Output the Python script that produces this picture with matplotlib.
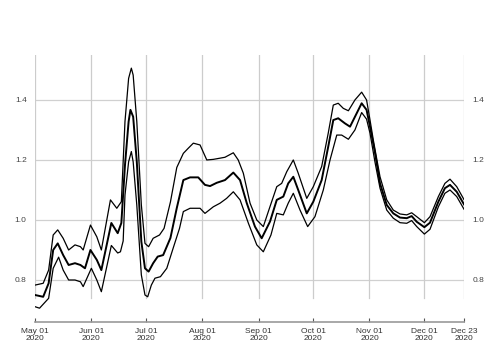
import datetime as dt
import matplotlib
matplotlib.use("Agg")
import matplotlib.pyplot as plt
import matplotlib.dates as mdates
import numpy as np

plt.rcParams['font.family'] = ['Liberation Sans', 'DejaVu Sans']

start = dt.datetime(2020, 5, 1)
end = dt.datetime(2020, 12, 23)

# day offsets from 2020-05-01 and values
upper_days = [0, 4.5, 7.5, 10, 12.5, 15.5, 18.5, 22, 25, 26.5, 30.5, 34, 36.5, 41.5, 45, 47.5,
              49.5, 51.5, 53, 54, 56, 58.5, 60.5, 62.5, 65, 68.5, 71, 74.5, 78, 81.6, 84.3, 87.1,
              90.8, 94.5, 98.1, 101.8, 104.5, 109.1, 111.8, 114.6, 118.3, 122, 125.6, 129.3, 133,
              135.7, 138.5, 142.1, 144.8, 149.5, 153.1, 157.7, 161.3, 164.1, 166.8, 169.6, 172.4,
              176, 179.7, 182.4, 184.3, 186.1, 187.5, 189.8, 193.5, 197.1, 200.8, 204.5, 207.2,
              210, 214.2, 217.3, 221.9, 225.5, 228.3, 232, 236]
upper_vals = [0.783, 0.789, 0.833, 0.95, 0.967, 0.939, 0.90, 0.917, 0.911, 0.90, 0.983, 0.944,
              0.90, 1.067, 1.039, 1.061, 1.328, 1.472, 1.506, 1.483, 1.328, 1.05, 0.922, 0.911,
              0.939, 0.95, 0.972, 1.06, 1.175, 1.222, 1.239, 1.256, 1.25, 1.20, 1.202, 1.206,
              1.209, 1.224, 1.20, 1.156, 1.056, 1.0, 0.978, 1.045, 1.111, 1.122, 1.161, 1.20,
              1.156, 1.072, 1.111, 1.178, 1.289, 1.383, 1.389, 1.372, 1.364, 1.40, 1.426, 1.40,
              1.333, 1.267, 1.22, 1.144, 1.067, 1.033, 1.02, 1.017, 1.024, 1.011, 0.991, 1.011,
              1.078, 1.122, 1.136, 1.111, 1.068]

mid_days = [0, 4.5, 7.5, 10, 12.5, 15.5, 18.5, 22, 25, 27.5, 30.5, 34, 36.5, 42, 45.5, 47.5,
            49.5, 51.5, 52.5, 54, 56, 58.5, 60.5, 62.5, 65, 67.5, 70.5, 74.5, 78, 81.6, 85.3,
            89.8, 93.5, 96.3, 100, 104.5, 109.1, 112.8, 116.5, 121, 124.7, 129.3, 133, 136.6,
            139.3, 142.1, 144.8, 149.5, 153.1, 157.7, 161.3, 164.1, 166.8, 170.5, 173.3, 177,
            179.7, 182.4, 184.3, 187, 189.8, 193.5, 197.1, 200.8, 204.5, 207.2, 210, 214.2,
            217.3, 221.9, 225.5, 228.3, 232, 236]
mid_vals = [0.75, 0.744, 0.789, 0.90, 0.922, 0.883, 0.85, 0.856, 0.85, 0.839, 0.90, 0.867,
            0.833, 0.99, 0.956, 0.99, 1.183, 1.328, 1.367, 1.344, 1.194, 0.928, 0.839, 0.828,
            0.856, 0.878, 0.883, 0.94, 1.04, 1.133, 1.142, 1.142, 1.117, 1.113, 1.124, 1.133,
            1.158, 1.133, 1.056, 0.978, 0.939, 0.995, 1.067, 1.078, 1.122, 1.144, 1.10, 1.022,
            1.061, 1.133, 1.244, 1.333, 1.339, 1.322, 1.311, 1.356, 1.389, 1.367, 1.311, 1.225,
            1.122, 1.05, 1.022, 1.008, 1.006, 1.013, 0.994, 0.976, 0.991, 1.061, 1.106, 1.117,
            1.094, 1.052]

lower_days = [0, 2.5, 7.5, 10, 13, 15.5, 18.5, 22, 25, 26.5, 31, 34, 36.5, 42, 45.5, 47,
              48.5, 49.5, 51.5, 53, 54, 56, 58.5, 60.5, 62, 64, 66, 69, 72.5, 76, 79.5, 81.6,
              85.3, 90.8, 93.5, 98.1, 101.8, 105.4, 109.1, 112.8, 117.4, 122, 125.6, 129.8, 133,
              136.6, 139.3, 142.1, 145.8, 150, 154, 158.6, 162.3, 166, 168.7, 172.4, 176, 179.7,
              182.4, 184.3, 187, 189.8, 193.5, 197.1, 200.8, 204.5, 207.2, 210, 214.2, 217.3,
              221.9, 225.5, 228.3, 232, 236]
lower_vals = [0.711, 0.706, 0.739, 0.839, 0.876, 0.833, 0.80, 0.80, 0.794, 0.778, 0.839, 0.80,
              0.761, 0.915, 0.89, 0.894, 0.93, 1.083, 1.194, 1.228, 1.194, 1.05, 0.817, 0.75,
              0.744, 0.783, 0.806, 0.811, 0.839, 0.906, 0.972, 1.028, 1.039, 1.039, 1.022,
              1.044, 1.056, 1.072, 1.094, 1.067, 0.989, 0.917, 0.894, 0.95, 1.022, 1.017, 1.056,
              1.089, 1.033, 0.978, 1.011, 1.10, 1.20, 1.283, 1.283, 1.269, 1.30, 1.358, 1.336,
              1.289, 1.194, 1.106, 1.033, 1.006, 0.991, 0.989, 0.998, 0.978, 0.953, 0.969, 1.044,
              1.089, 1.10, 1.078, 1.036]

tick_dates = [dt.datetime(2020, 5, 1), dt.datetime(2020, 6, 1), dt.datetime(2020, 7, 1),
              dt.datetime(2020, 8, 1), dt.datetime(2020, 9, 1), dt.datetime(2020, 10, 1),
              dt.datetime(2020, 11, 1), dt.datetime(2020, 12, 1), dt.datetime(2020, 12, 23)]
tick_labels = ["May 01\n2020", "Jun 01\n2020", "Jul 01\n2020", "Aug 01\n2020", "Sep 01\n2020",
               "Oct 01\n2020", "Nov 01\n2020", "Dec 01\n2020", "Dec 23\n2020"]
y_ticks = [0.8, 1.0, 1.2, 1.4]
y_labels = ["0.8", "1.0", "1.2", "1.4"]

def to_dates(days):
    return [start + dt.timedelta(days=d) for d in days]

fig = plt.figure(figsize=(5, 3.5), dpi=100)
ax = fig.add_axes([0.07, 0.08, 0.858, 0.763])

ymin_v, ymax_v = 0.66, 1.55
grid_bottom = 0.74
ax.set_ylim(ymin_v, ymax_v)
ax.set_xlim(start, end)

for y in y_ticks:
    ax.axhline(y, color='#d0d0d0', lw=0.9, zorder=0)
gfrac = (grid_bottom - ymin_v) / (ymax_v - ymin_v)
for d in tick_dates:
    ax.axvline(d, ymin=gfrac, ymax=1, color='#cccccc', lw=0.9, zorder=0)

ax.plot(to_dates(upper_days), upper_vals, color='black', lw=0.9, solid_joinstyle='round')
ax.plot(to_dates(lower_days), lower_vals, color='black', lw=0.9, solid_joinstyle='round')
ax.plot(to_dates(mid_days), mid_vals, color='black', lw=1.4, solid_joinstyle='round')

for s in ['top', 'left', 'right']:
    ax.spines[s].set_visible(False)
ax.spines['bottom'].set_color('#999999')
ax.spines['bottom'].set_linewidth(1.2)

ax.set_xticks(tick_dates)
ax.set_xticklabels(tick_labels, fontsize=6, color='#333333', linespacing=1.15)
ax.tick_params(axis='x', direction='in', length=3, width=0.8, color='#555555', pad=4)

ax.set_yticks(y_ticks)
ax.set_yticklabels(y_labels, fontsize=6, color='#444444')
ax.tick_params(axis='y', length=0, pad=6, labelleft=True, labelright=True)

fig.savefig("out.png", dpi=100)
